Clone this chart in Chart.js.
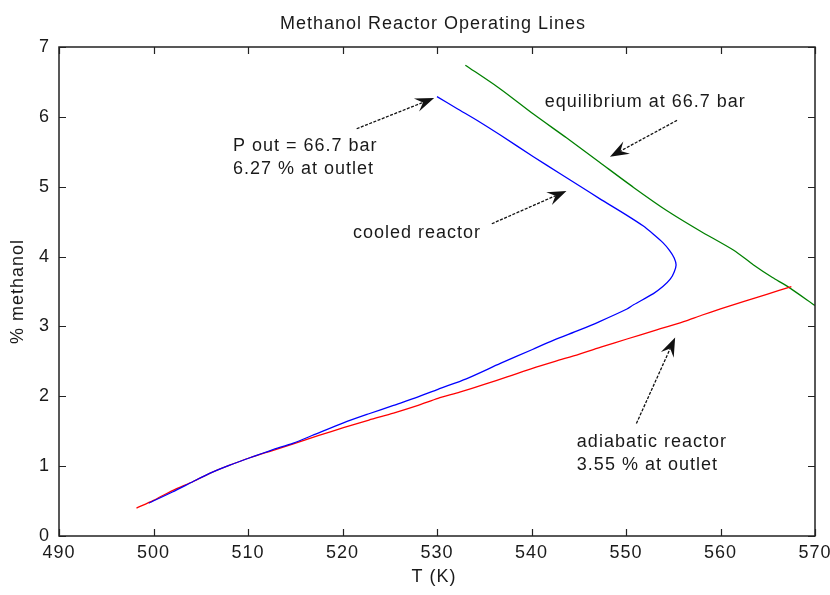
<!DOCTYPE html>
<html>
<head>
<meta charset="utf-8">
<script src="https://cdn.jsdelivr.net/npm/chart.js@4/dist/chart.umd.min.js"></script>
<style>
html,body{margin:0;padding:0;background:#fff;}
#wrap{width:830px;height:595px;}
</style>
</head>
<body>
<div id="wrap"><canvas id="c" width="830" height="595"></canvas></div>
<script>
// ---- data ----
const titleText = "Methanol Reactor Operating Lines";
const xTitle = "T (K)";
const yTitle = "% methanol";

const xTicks = [490, 500, 510, 520, 530, 540, 550, 560, 570];
const yTicks = [0, 1, 2, 3, 4, 5, 6, 7];

// cooled reactor (blue)
const cooledT = [499.5, 502.0, 504.2, 506.0, 508.0, 510.2, 512.5, 514.8, 517.0, 520.1, 522.8, 525.4, 528.0, 530.1, 533.1, 536.7, 540.1, 542.3, 545.1, 547.2, 550.1, 550.8, 552.9, 553.9, 554.7, 555.1, 555.3, 555.1, 554.6, 553.9, 552.9, 551.8, 550.1, 547.2, 545.1, 543.0, 540.2, 536.7, 534.6, 532.1, 530.0];
const cooledY = [0.47, 0.63, 0.78, 0.90, 1.01, 1.12, 1.23, 1.33, 1.45, 1.62, 1.75, 1.87, 1.99, 2.10, 2.25, 2.47, 2.67, 2.80, 2.95, 3.07, 3.25, 3.31, 3.47, 3.57, 3.68, 3.78, 3.88, 3.98, 4.09, 4.20, 4.32, 4.44, 4.59, 4.83, 5.01, 5.19, 5.43, 5.74, 5.92, 6.12, 6.29];

// adiabatic reactor (red)
const adiabT = [498.2, 500.0, 502.0, 504.2, 506.0, 508.0, 510.2, 512.5, 514.8, 517.5, 520.1, 522.8, 525.4, 528.0, 530.1, 532.4, 535.0, 537.5, 540.1, 542.5, 545.0, 547.5, 550.1, 553.0, 556.1, 558.0, 560.0, 562.5, 564.9, 567.5];
const adiabY = [0.40, 0.51, 0.65, 0.78, 0.90, 1.01, 1.12, 1.22, 1.32, 1.44, 1.55, 1.66, 1.76, 1.87, 1.97, 2.06, 2.17, 2.28, 2.40, 2.50, 2.60, 2.71, 2.82, 2.94, 3.07, 3.16, 3.25, 3.36, 3.46, 3.57];

// equilibrium at 66.7 bar (green)
const equilT = [533.0, 536.7, 540.2, 543.7, 547.2, 550.8, 554.3, 557.8, 561.4, 563.5, 565.5, 567.0, 570.0];
const equilY = [6.74, 6.40, 6.04, 5.70, 5.35, 4.99, 4.66, 4.37, 4.09, 3.88, 3.70, 3.58, 3.30];

// annotations (data coordinates)
const noteLines = [
  ["P out = 66.7 bar", "6.27 % at outlet"],
  ["cooled reactor"],
  ["equilibrium at 66.7 bar"],
  ["adiabatic reactor", "3.55 % at outlet"]
];
const noteT = [508.4, 521.1, 541.4, 544.8];
const noteY = [5.586, 4.343, 6.214, 1.343];

const arrowFromT = [521.5, 535.8, 555.4, 551.1];
const arrowFromY = [5.83, 4.47, 5.95, 1.61];
const arrowToT = [529.7, 543.7, 548.3, 555.2];
const arrowToY = [6.27, 4.94, 5.43, 2.84];

// ---- build ----
const pts = (xs, ys) => xs.map((x, i) => ({x: x, y: ys[i]}));
const FONT = "'Liberation Sans', Arial, sans-serif";
const TXT = '#1a1a1a';
const LS = '1px';

const framePlugin = {
  id: 'frame',
  beforeDraw(chart) {
    chart.ctx.letterSpacing = LS;
  },
  afterDraw(chart) {
    const ctx = chart.ctx;
    const a = chart.chartArea;
    const xs = chart.scales.x, ys = chart.scales.y;
    ctx.save();
    ctx.letterSpacing = LS;
    ctx.strokeStyle = '#222';
    ctx.lineWidth = 1.5;
    ctx.strokeRect(a.left, a.top, a.right - a.left, a.bottom - a.top);
    const tl = 7;
    ctx.lineWidth = 1.2;
    ctx.beginPath();
    xTicks.forEach(v => {
      const p = Math.round(xs.getPixelForValue(v)) + 0.5;
      ctx.moveTo(p, a.bottom); ctx.lineTo(p, a.bottom - tl);
      ctx.moveTo(p, a.top); ctx.lineTo(p, a.top + tl);
    });
    yTicks.forEach(v => {
      const p = Math.round(ys.getPixelForValue(v)) + 0.5;
      ctx.moveTo(a.left, p); ctx.lineTo(a.left + tl, p);
      ctx.moveTo(a.right, p); ctx.lineTo(a.right - tl, p);
    });
    ctx.stroke();

    ctx.fillStyle = TXT;
    ctx.font = '18px ' + FONT;
    ctx.textAlign = 'center';
    ctx.textBaseline = 'middle';
    ctx.fillText(titleText, 433, 24);
    ctx.fillText(xTitle, 434, 577);
    ctx.save();
    ctx.translate(18, (a.top + a.bottom) / 2);
    ctx.rotate(-Math.PI / 2);
    ctx.fillText(yTitle, 0, 0);
    ctx.restore();

    ctx.textAlign = 'left';
    noteLines.forEach((lines, i) => {
      const x = xs.getPixelForValue(noteT[i]);
      const y = ys.getPixelForValue(noteY[i]);
      lines.forEach((s, j) => ctx.fillText(s, x, y + j * 23));
    });

    ctx.strokeStyle = '#111';
    ctx.fillStyle = '#111';
    ctx.lineWidth = 1.3;
    arrowFromT.forEach((t, i) => {
      const x0 = xs.getPixelForValue(t), y0 = ys.getPixelForValue(arrowFromY[i]);
      const x1 = xs.getPixelForValue(arrowToT[i]), y1 = ys.getPixelForValue(arrowToY[i]);
      const ang = Math.atan2(y1 - y0, x1 - x0);
      const L = 19, W = 7, N = 12;
      const bx = x1 - L * Math.cos(ang), by = y1 - L * Math.sin(ang);
      const nx = x1 - N * Math.cos(ang), ny = y1 - N * Math.sin(ang);
      ctx.setLineDash([3, 1.5]);
      ctx.beginPath();
      ctx.moveTo(x0, y0); ctx.lineTo(nx, ny);
      ctx.stroke();
      ctx.setLineDash([]);
      ctx.beginPath();
      ctx.moveTo(x1, y1);
      ctx.lineTo(bx - W * Math.sin(ang), by + W * Math.cos(ang));
      ctx.lineTo(nx, ny);
      ctx.lineTo(bx + W * Math.sin(ang), by - W * Math.cos(ang));
      ctx.closePath();
      ctx.fill();
    });
    ctx.restore();
  }
};

const ds = (label, xs, ys, color) => ({
  label: label,
  data: pts(xs, ys),
  borderColor: color,
  backgroundColor: color,
  borderWidth: 1.3,
  pointRadius: 0,
  showLine: true,
  tension: 0.25,
  fill: false
});

new Chart(document.getElementById('c'), {
  type: 'scatter',
  data: {
    datasets: [
      ds('cooled reactor', cooledT, cooledY, '#0000ff'),
      ds('adiabatic reactor', adiabT, adiabY, '#ff0000'),
      ds('equilibrium at 66.7 bar', equilT, equilY, '#008000')
    ]
  },
  options: {
    responsive: false,
    animation: false,
    devicePixelRatio: 1,
    layout: {padding: {left: 0, right: 15, top: 47, bottom: 0}},
    plugins: {legend: {display: false}, title: {display: false}, tooltip: {enabled: false}},
    scales: {
      x: {
        type: 'linear', min: 490, max: 570,
        afterFit: s => { s.height = 59; s.paddingLeft = 0; s.paddingRight = 0; },
        afterBuildTicks: s => { s.ticks = xTicks.map(v => ({value: v})); },
        grid: {display: false, drawTicks: false},
        border: {display: false},
        ticks: {padding: 6, color: TXT, font: {family: FONT, size: 18}, maxRotation: 0, autoSkip: false}
      },
      y: {
        type: 'linear', min: 0, max: 7,
        afterFit: s => { s.width = 59; s.paddingTop = 0; s.paddingBottom = 0; },
        afterBuildTicks: s => { s.ticks = yTicks.map(v => ({value: v})); },
        grid: {display: false, drawTicks: false},
        border: {display: false},
        ticks: {padding: 9, color: TXT, font: {family: FONT, size: 18}, autoSkip: false}
      }
    }
  },
  plugins: [framePlugin]
});
</script>
</body>
</html>
